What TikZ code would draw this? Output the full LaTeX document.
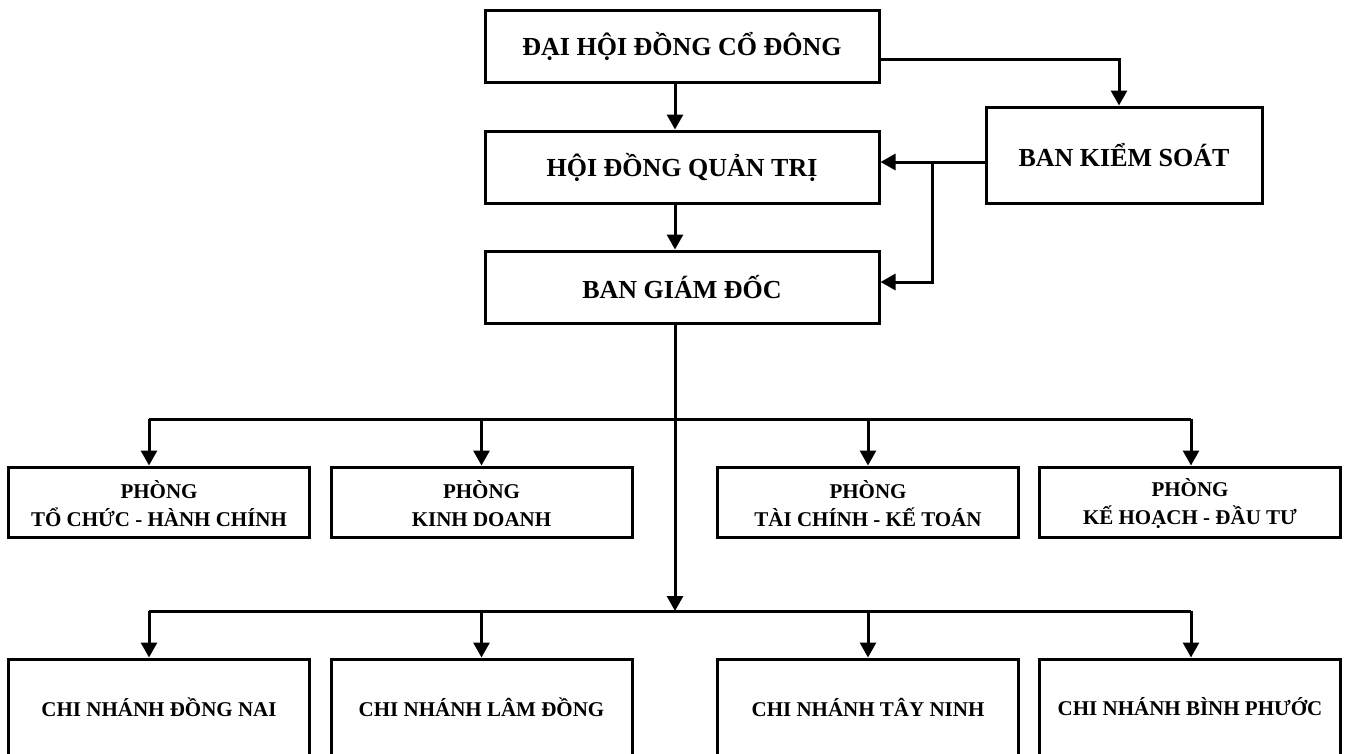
\documentclass[tikz,border=0pt]{standalone}
\usepackage{fontspec}
\setmainfont{Liberation Serif}
\usepackage{tikz}
\usetikzlibrary{arrows.meta,calc}

\tikzset{
  >={Triangle[length=15pt,width=16pt]},
  topbox/.style={draw,line width=3pt,inner sep=0pt,minimum width=394pt,minimum height=72pt,
    font=\fontsize{26}{30}\selectfont\bfseries},
  deptbox/.style={draw,line width=3pt,inner sep=0pt,minimum width=301pt,minimum height=70pt,
    align=center,font=\fontsize{21}{28}\selectfont\bfseries},
  branchbox/.style={deptbox,minimum height=96pt},
  link/.style={line width=3pt}
}

\begin{document}
\begin{tikzpicture}[x=1pt,y={(0pt,-1pt)}]
        \clip (0,0) rectangle (1347,753);
        % upper part
        \node[topbox] (dhdcd) at (682,46.5) {ĐẠI HỘI ĐỒNG CỔ ĐÔNG};
        \node[topbox] (hdqt) at (682,167) {HỘI ĐỒNG QUẢN TRỊ};
        \node[topbox] (bgd) at (682,287) {BAN GIÁM ĐỐC};
        \node[topbox,minimum width=276pt,minimum height=96pt] (bks) at (1124,155) {BAN KIỂM SOÁT};
        % departments and branches
        \node[deptbox] (p1) at (159,502) {\rule{0pt}{22pt}PHÒNG\\TỔ CHỨC - HÀNH CHÍNH};
        \node[deptbox] (p2) at (481.5,502) {\rule{0pt}{22pt}PHÒNG\\KINH DOANH};
        \node[deptbox] (p3) at (868,502) {\rule{0pt}{22pt}PHÒNG\\TÀI CHÍNH - KẾ TOÁN};
        \node[deptbox] (p4) at (1190,502) {\rule{0pt}{22pt}PHÒNG\\KẾ HOẠCH - ĐẦU TƯ};
        \node[branchbox] (c1) at (159,707) {CHI NHÁNH ĐỒNG NAI};
        \node[branchbox] (c2) at (481.5,707) {CHI NHÁNH LÂM ĐỒNG};
        \node[branchbox] (c3) at (868,707) {CHI NHÁNH TÂY NINH};
        \node[branchbox] (c4) at (1190,707) {CHI NHÁNH BÌNH PHƯỚC};
        \coordinate (axis) at (675,0);
        \coordinate (b1) at (0,419);
        \coordinate (b2) at (0,611);
        \coordinate (ks) at ([yshift=-7pt]bks.west);
        \coordinate (kj) at ($(hdqt.east)!0.5!(bks.west)$);
        % connectors
        \draw[link,->] (dhdcd.south -| axis) -- (hdqt.north -| axis);
        \draw[link,->] (hdqt.south -| axis) -- (bgd.north -| axis);
        \draw[link,->] ([yshift=-12.5pt]dhdcd.east) -| ([xshift=-5pt]bks.north);
        \draw[link,->] (ks) -- (ks -| hdqt.east);
        \draw[link,->] (kj |- ks) |- ([yshift=5pt]bgd.east);
        \draw[link,->] (bgd.south -| axis) -- (axis |- b2);
        \draw[link] ([xshift=-10pt]p1.north |- b1) -- ([xshift=1pt]p4.north |- b1);
        \draw[link] ([xshift=-10pt]c1.north |- b2) -- ([xshift=1pt]c4.north |- b2);
        \foreach \n/\s in {1/-10,2/0,3/0,4/1}{
          \draw[link,->] ([xshift=\s pt]p\n.north |- b1) -- ([xshift=\s pt]p\n.north);
          \draw[link,->] ([xshift=\s pt]c\n.north |- b2) -- ([xshift=\s pt]c\n.north);
        }
    \end{tikzpicture}
\end{document}
